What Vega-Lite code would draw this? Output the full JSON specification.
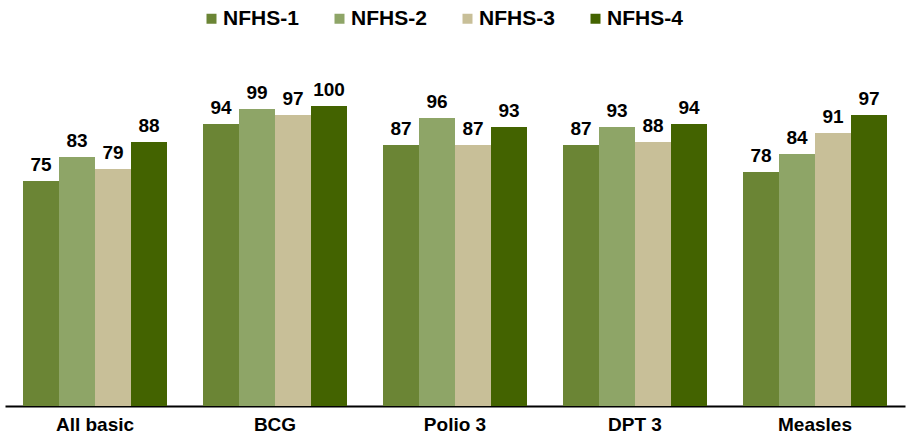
{
  "$schema": "https://vega.github.io/schema/vega-lite/v6.json",
  "width": 900,
  "height": 300,
  "autosize": {"type": "none"},
  "padding": {"left": 5, "top": 106, "right": 1, "bottom": 31},
  "config": {
    "view": {"stroke": null},
    "font": "Liberation Sans"
  },
  "data": {
    "values": [
      {"cat": "All basic", "survey": "NFHS-1", "value": 75},
      {"cat": "All basic", "survey": "NFHS-2", "value": 83},
      {"cat": "All basic", "survey": "NFHS-3", "value": 79},
      {"cat": "All basic", "survey": "NFHS-4", "value": 88},
      {"cat": "BCG", "survey": "NFHS-1", "value": 94},
      {"cat": "BCG", "survey": "NFHS-2", "value": 99},
      {"cat": "BCG", "survey": "NFHS-3", "value": 97},
      {"cat": "BCG", "survey": "NFHS-4", "value": 100},
      {"cat": "Polio 3", "survey": "NFHS-1", "value": 87},
      {"cat": "Polio 3", "survey": "NFHS-2", "value": 96},
      {"cat": "Polio 3", "survey": "NFHS-3", "value": 87},
      {"cat": "Polio 3", "survey": "NFHS-4", "value": 93},
      {"cat": "DPT 3", "survey": "NFHS-1", "value": 87},
      {"cat": "DPT 3", "survey": "NFHS-2", "value": 93},
      {"cat": "DPT 3", "survey": "NFHS-3", "value": 88},
      {"cat": "DPT 3", "survey": "NFHS-4", "value": 94},
      {"cat": "Measles", "survey": "NFHS-1", "value": 78},
      {"cat": "Measles", "survey": "NFHS-2", "value": 84},
      {"cat": "Measles", "survey": "NFHS-3", "value": 91},
      {"cat": "Measles", "survey": "NFHS-4", "value": 97}
    ]
  },
  "encoding": {
    "x": {
      "field": "cat", "type": "nominal", "sort": null,
      "scale": {"paddingInner": 0.2, "paddingOuter": 0.1},
      "axis": {
        "title": null, "labelAngle": 0, "ticks": false,
        "domainColor": "#000000", "domainWidth": 2,
        "labelFont": "Liberation Sans", "labelFontSize": 19, "labelFontWeight": "bold",
        "labelColor": "#000000", "labelPadding": 9
      }
    },
    "xOffset": {"field": "survey", "type": "nominal", "sort": null},
    "y": {
      "field": "value", "type": "quantitative",
      "scale": {"domain": [0, 100]},
      "axis": null
    }
  },
  "layer": [
    {
      "mark": {"type": "bar"},
      "encoding": {
        "color": {
          "field": "survey", "type": "nominal", "sort": null,
          "scale": {
            "domain": ["NFHS-1", "NFHS-2", "NFHS-3", "NFHS-4"],
            "range": ["#6B8535", "#8EA567", "#C8BF98", "#436300"]
          },
          "legend": {
            "title": null, "orient": "none", "direction": "horizontal",
            "legendX": 196, "legendY": -98,
            "symbolType": "square", "symbolSize": 100, "symbolStrokeWidth": 0,
            "labelFont": "Liberation Sans", "labelFontSize": 21, "labelFontWeight": "bold",
            "labelColor": "#000000", "labelOffset": 1, "columnPadding": 30
          }
        }
      }
    },
    {
      "mark": {"type": "text", "baseline": "bottom", "dy": -6, "fontSize": 19, "fontWeight": "bold", "color": "#000000"},
      "encoding": {
        "text": {"field": "value", "type": "quantitative"}
      }
    }
  ]
}
